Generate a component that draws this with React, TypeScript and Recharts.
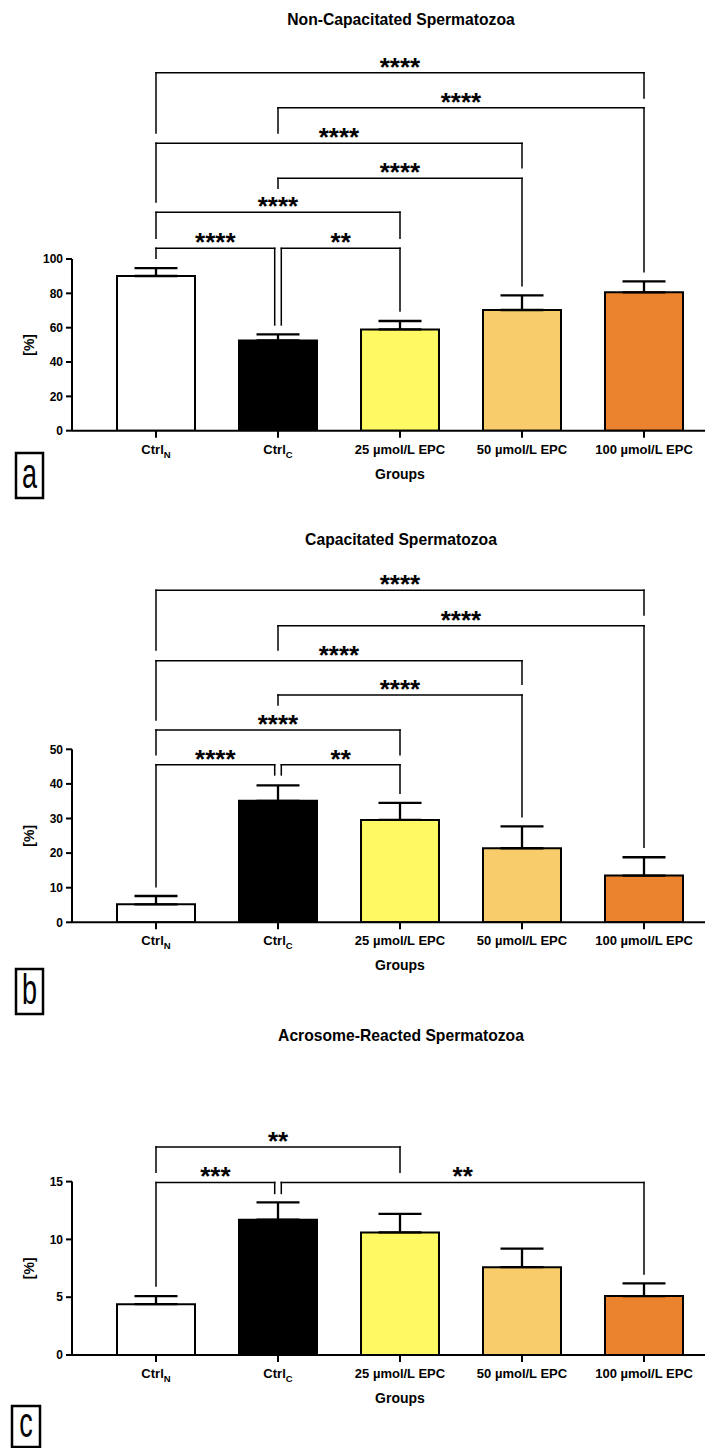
import { BarChart, Bar, Cell, XAxis, YAxis, ErrorBar, ReferenceLine } from 'recharts'

const FONT = "'Liberation Sans', Arial, Helvetica, sans-serif"

const groups = ['CtrlN', 'CtrlC', '25 µmol/L EPC', '50 µmol/L EPC', '100 µmol/L EPC']
const subscripts: Record<string, string> = { CtrlN: 'N', CtrlC: 'C' }
const barColors = ['#ffffff', '#000000', '#fff964', '#f8cb6b', '#eb822e']

// a: non-capacitated
const nonCapMean = [90.1, 52.6, 59.0, 70.3, 80.6]
const nonCapSd = [4.6, 3.5, 4.9, 8.5, 6.4]
const nonCapTicks = [0, 20, 40, 60, 80, 100]

// b: capacitated
const capMean = [5.2, 35.1, 29.6, 21.4, 13.5]
const capSd = [2.4, 4.5, 4.9, 6.3, 5.3]
const capTicks = [0, 10, 20, 30, 40, 50]

// c: acrosome-reacted
const acroMean = [4.4, 11.7, 10.6, 7.6, 5.1]
const acroSd = [0.7, 1.5, 1.6, 1.6, 1.1]
const acroTicks = [0, 5, 10, 15]

type Bracket = {
  from: number
  to: number
  level: number
  fromEnd: number
  toEnd: number
  label: string
  fromNudge?: number
  toNudge?: number
}

// significance brackets, in data units (level = horizontal line, *End = bottom of each leg)
const nonCapBrackets: Bracket[] = [
  { from: 0, to: 4, level: 208.5, fromEnd: 173.4, toEnd: 193.8, label: '****' },
  { from: 1, to: 4, level: 188.1, fromEnd: 173.4, toEnd: 92.6, label: '****' },
  { from: 0, to: 3, level: 167.4, fromEnd: 133.2, toEnd: 153.2, label: '****' },
  { from: 1, to: 3, level: 147.0, fromEnd: 141.2, toEnd: 84.4, label: '****' },
  { from: 0, to: 2, level: 127.2, fromEnd: 112.1, toEnd: 112.1, label: '****' },
  { from: 0, to: 1, level: 106.2, fromEnd: 100.4, toEnd: 61.6, label: '****', toNudge: -1 },
  { from: 1, to: 2, level: 106.2, fromEnd: 61.6, toEnd: 69.7, label: '**', fromNudge: 1 },
]

const capBrackets: Bracket[] = [
  { from: 0, to: 4, level: 96.0, fromEnd: 78.7, toEnd: 88.8, label: '****' },
  { from: 1, to: 4, level: 85.7, fromEnd: 78.7, toEnd: 21.7, label: '****' },
  { from: 0, to: 3, level: 75.6, fromEnd: 58.5, toEnd: 68.8, label: '****' },
  { from: 1, to: 3, level: 65.7, fromEnd: 62.8, toEnd: 30.5, label: '****' },
  { from: 0, to: 2, level: 55.6, fromEnd: 48.4, toEnd: 48.4, label: '****' },
  { from: 0, to: 1, level: 45.5, fromEnd: 10.3, toEnd: 42.6, label: '****', toNudge: -1 },
  { from: 1, to: 2, level: 45.5, fromEnd: 42.6, toEnd: 37.3, label: '**', fromNudge: 1 },
]

const acroBrackets: Bracket[] = [
  { from: 0, to: 2, level: 18.0, fromEnd: 15.8, toEnd: 15.8, label: '**' },
  { from: 0, to: 1, level: 14.93, fromEnd: 5.96, toEnd: 13.98, label: '***', toNudge: -1 },
  { from: 1, to: 4, level: 14.93, fromEnd: 13.98, toEnd: 7.0, label: '**', fromNudge: 1 },
]

const SPLIT = 0.027

const panels = [
  { key: 'a', title: 'Non-Capacitated Spermatozoa', means: nonCapMean, sds: nonCapSd, ticks: nonCapTicks, brackets: nonCapBrackets, top: 0, plotTop: 259, plotBottom: 430.7, titleY: 24.5, box: { x: 16, y: 453, w: 27, h: 45 } },
  { key: 'b', title: 'Capacitated Spermatozoa', means: capMean, sds: capSd, ticks: capTicks, brackets: capBrackets, top: 520, plotTop: 749.3, plotBottom: 922.3, titleY: 545, box: { x: 16, y: 969, w: 27, h: 45 } },
  { key: 'c', title: 'Acrosome-Reacted Spermatozoa', means: acroMean, sds: acroSd, ticks: acroTicks, brackets: acroBrackets, top: 1020, plotTop: 1181.6, plotBottom: 1355, titleY: 1041, box: { x: 12, y: 1406, w: 28, h: 41 } },
]

function GroupTick({ x, y, payload }: any) {
  const sub = subscripts[payload.value]
  return (
    <text x={x} y={y} dy={12} textAnchor='middle' fontSize={13} fontWeight='bold' fontFamily={FONT} fill='#000'>
      {sub ? 'Ctrl' : payload.value}
      {sub && (
        <tspan dy={4} fontSize={9.5}>
          {sub}
        </tspan>
      )}
    </text>
  )
}

function bracketLines(b: Bracket, i: number) {
  const fx = b.from + (b.fromNudge ?? 0) * SPLIT
  const tx = b.to + (b.toNudge ?? 0) * SPLIT
  const common = {
    xAxisId: 'num',
    stroke: '#000',
    strokeWidth: 1.5,
    strokeLinecap: 'square' as const,
    ifOverflow: 'visible' as const,
  }
  return [
    <ReferenceLine key={`l${i}`} {...common} segment={[{ x: fx, y: b.fromEnd }, { x: fx, y: b.level }]} />,
    <ReferenceLine
      key={`h${i}`}
      {...common}
      segment={[{ x: fx, y: b.level }, { x: tx, y: b.level }]}
      label={{ value: b.label, position: 'top', offset: -3, fontSize: 26, fontWeight: 'bold', fill: '#000', fontFamily: FONT }}
    />,
    <ReferenceLine key={`r${i}`} {...common} segment={[{ x: tx, y: b.level }, { x: tx, y: b.toEnd }]} />,
  ]
}

function Panel({ p }: { p: (typeof panels)[number] }) {
  const rows = groups.map((g, i) => ({ group: g, mean: p.means[i], err: [0, p.sds[i]] }))
  const height = Math.ceil(p.plotBottom - p.top + 40)
  const marginTop = p.plotTop - p.top
  const marginBottom = height - (p.plotBottom - p.top) - 30
  const yMax = p.ticks[p.ticks.length - 1]

  return (
    <div style={{ position: 'absolute', left: 0, top: p.top, width: 715, height }}>
      <BarChart width={715} height={height} data={rows} margin={{ top: marginTop, right: 10, bottom: marginBottom, left: 0 }}>
        <XAxis
          xAxisId='cat'
          dataKey='group'
          height={30}
          interval={0}
          padding={{ left: 23, right: 0 }}
          tickSize={7}
          tickMargin={4}
          tick={<GroupTick />}
          axisLine={{ stroke: '#000', strokeWidth: 2 }}
          tickLine={{ stroke: '#000', strokeWidth: 2 }}
        />
        {/* numeric twin of the category axis: index 0 at the first band centre, 4 at the last */}
        <XAxis xAxisId='num' type='number' domain={[0, 4]} allowDataOverflow hide padding={{ left: 84, right: 61 }} />
        <YAxis
          width={72}
          domain={[0, yMax]}
          ticks={p.ticks}
          interval={0}
          allowDataOverflow
          tickSize={6}
          tickMargin={3}
          tick={{ fontSize: 12, fontWeight: 'bold', fill: '#000', fontFamily: FONT }}
          axisLine={{ stroke: '#000', strokeWidth: 2 }}
          tickLine={{ stroke: '#000', strokeWidth: 2 }}
        />
        <Bar xAxisId='cat' dataKey='mean' barSize={78} stroke='#000' strokeWidth={2} isAnimationActive={false}>
          {rows.map((r, i) => (
            <Cell key={r.group} fill={barColors[i]} />
          ))}
          <ErrorBar dataKey='err' direction='y' width={21.5} stroke='#000' strokeWidth={2.3} isAnimationActive={false} />
        </Bar>
        {p.brackets.flatMap((b, i) => bracketLines(b, i))}
      </BarChart>
    </div>
  )
}

export default function App() {
  return (
    <div style={{ position: 'absolute', left: 0, top: 0, width: 715, height: 1448, background: '#fff', overflow: 'hidden' }}>
      {panels.map((p) => (
        <Panel key={p.key} p={p} />
      ))}
      <svg width={715} height={1448} style={{ position: 'absolute', left: 0, top: 0, pointerEvents: 'none' }} fontFamily={FONT}>
        {panels.map((p) => {
          const mid = (p.plotTop + p.plotBottom) / 2
          return (
            <g key={p.key}>
              <text x={401} y={p.titleY} textAnchor='middle' fontSize={15.7} fontWeight='bold'>
                {p.title}
              </text>
              <text x={400} y={p.plotBottom + 48} textAnchor='middle' fontSize={14} fontWeight='bold'>
                Groups
              </text>
              <text transform={`translate(34, ${mid}) rotate(-90)`} textAnchor='middle' fontSize={14} fontWeight='bold'>
                [%]
              </text>
              <rect x={p.box.x} y={p.box.y} width={p.box.w} height={p.box.h} fill='none' stroke='#000' strokeWidth={2.5} />
              <text
                transform={`translate(${p.box.x + p.box.w / 2}, ${p.box.y + p.box.h - 10}) scale(1, 1.6)`}
                textAnchor='middle'
                fontSize={27}
              >
                {p.key}
              </text>
            </g>
          )
        })}
      </svg>
    </div>
  )
}
